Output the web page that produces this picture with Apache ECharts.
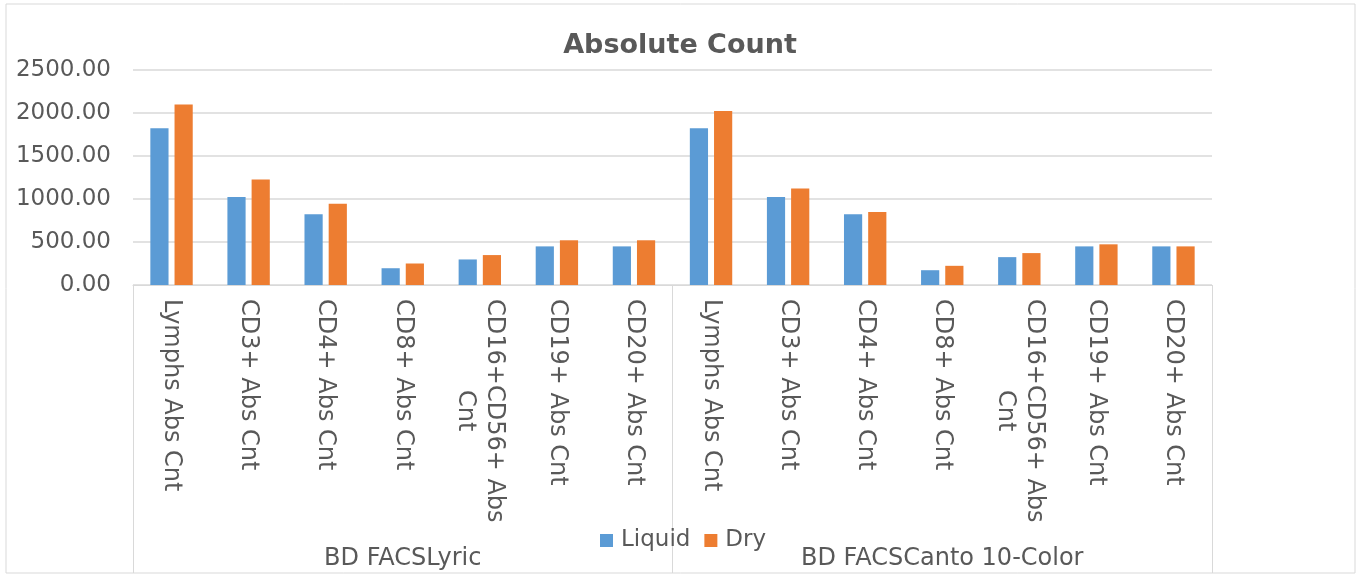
<!DOCTYPE html>
<html>
<head>
<meta charset="utf-8">
<title>Absolute Count</title>
<script src="https://cdn.jsdelivr.net/npm/echarts@6/dist/echarts.min.js"></script>
<style>
  html, body { margin: 0; padding: 0; background: #fff; }
  #main { width: 1360px; height: 575px; }
</style>
</head>
<body>
<div id="main"></div>
<script>
// categories (two instrument groups, 7 measures each)
var measures = ['Lymphs Abs Cnt', 'CD3+ Abs Cnt', 'CD4+ Abs Cnt', 'CD8+ Abs Cnt', 'CD16+CD56+ Abs\nCnt', 'CD19+ Abs Cnt', 'CD20+ Abs Cnt']
var groups = ['BD FACSLyric', 'BD FACSCanto 10-Color']
var categories = measures.concat(measures)

// values
var liquid = [1824, 1023, 824, 195, 297, 449, 449, 1824, 1023, 824, 172, 324, 449, 449]
var dry = [2098, 1227, 945, 250, 348, 520, 520, 2023, 1121, 848, 223, 371, 473, 449]

var yTicks = [0, 500, 1000, 1500, 2000, 2500]

var FONT = 'DejaVu Sans, Verdana, sans-serif'
var TXT = '#595959'
var LINE = '#d9d9d9'

var myChart = echarts.init(document.getElementById('main'))

var option = {
  animation: false,
  textStyle: { fontFamily: FONT },
  title: {
    text: 'Absolute Count',
    left: 'center',
    top: 27,
    textStyle: { fontFamily: FONT, fontSize: 27, fontWeight: 'bold', color: TXT }
  },
  // chart frame
  graphic: [{
    type: 'rect',
    shape: { x: 6, y: 4, width: 1349, height: 569 },
    style: { fill: 'none', stroke: LINE, lineWidth: 1 },
    silent: true
  }],
  legend: {
    data: ['Liquid', 'Dry'],
    left: 595,
    top: 524,
    icon: 'rect',
    itemWidth: 13,
    itemHeight: 13,
    itemGap: 14,
    textStyle: { fontFamily: FONT, fontSize: 23, color: TXT, padding: [0, 0, 0, 3] }
  },
  grid: { left: 133, right: 148, top: 70, bottom: 290 },
  xAxis: [
    {
      type: 'category',
      data: categories,
      axisLine: { lineStyle: { color: LINE, width: 1 } },
      axisTick: { show: false },
      axisLabel: {
        interval: 0,
        rotate: -90,
        margin: 14,
        fontFamily: FONT,
        fontSize: 24,
        lineHeight: 29,
        color: TXT,
        // each wrapped line centred on the first one, as in the original
        formatter: function (v) {
          return v.split('\n').map(function (s) { return '{c|' + s + '}' }).join('\n')
        },
        rich: {
          c: { align: 'center', fontFamily: FONT, fontSize: 24, lineHeight: 29, color: TXT }
        }
      }
    },
    {
      // group level of the category axis
      type: 'category',
      data: groups,
      position: 'bottom',
      boundaryGap: true,
      axisLine: { show: false },
      axisTick: { show: true, interval: 0, length: 288, lineStyle: { color: LINE } },
      axisLabel: {
        interval: 0,
        margin: 262,
        fontFamily: FONT,
        fontSize: 24,
        color: TXT
      }
    }
  ],
  yAxis: {
    type: 'value',
    min: yTicks[0],
    max: yTicks[yTicks.length - 1],
    interval: yTicks[1] - yTicks[0],
    axisLine: { show: false },
    axisTick: { show: false },
    splitLine: { lineStyle: { color: LINE, width: 1.5 } },
    axisLabel: {
      margin: 22,
      fontFamily: FONT,
      fontSize: 23,
      color: TXT,
      formatter: function (v) { return v.toFixed(2) }
    }
  },
  series: [
    {
      name: 'Liquid',
      type: 'bar',
      data: liquid,
      barGap: '33%',
      barCategoryGap: '45%',
      itemStyle: { color: '#5b9bd5' }
    },
    {
      name: 'Dry',
      type: 'bar',
      data: dry,
      itemStyle: { color: '#ed7d31' }
    }
  ]
}

myChart.setOption(option)
</script>
</body>
</html>
